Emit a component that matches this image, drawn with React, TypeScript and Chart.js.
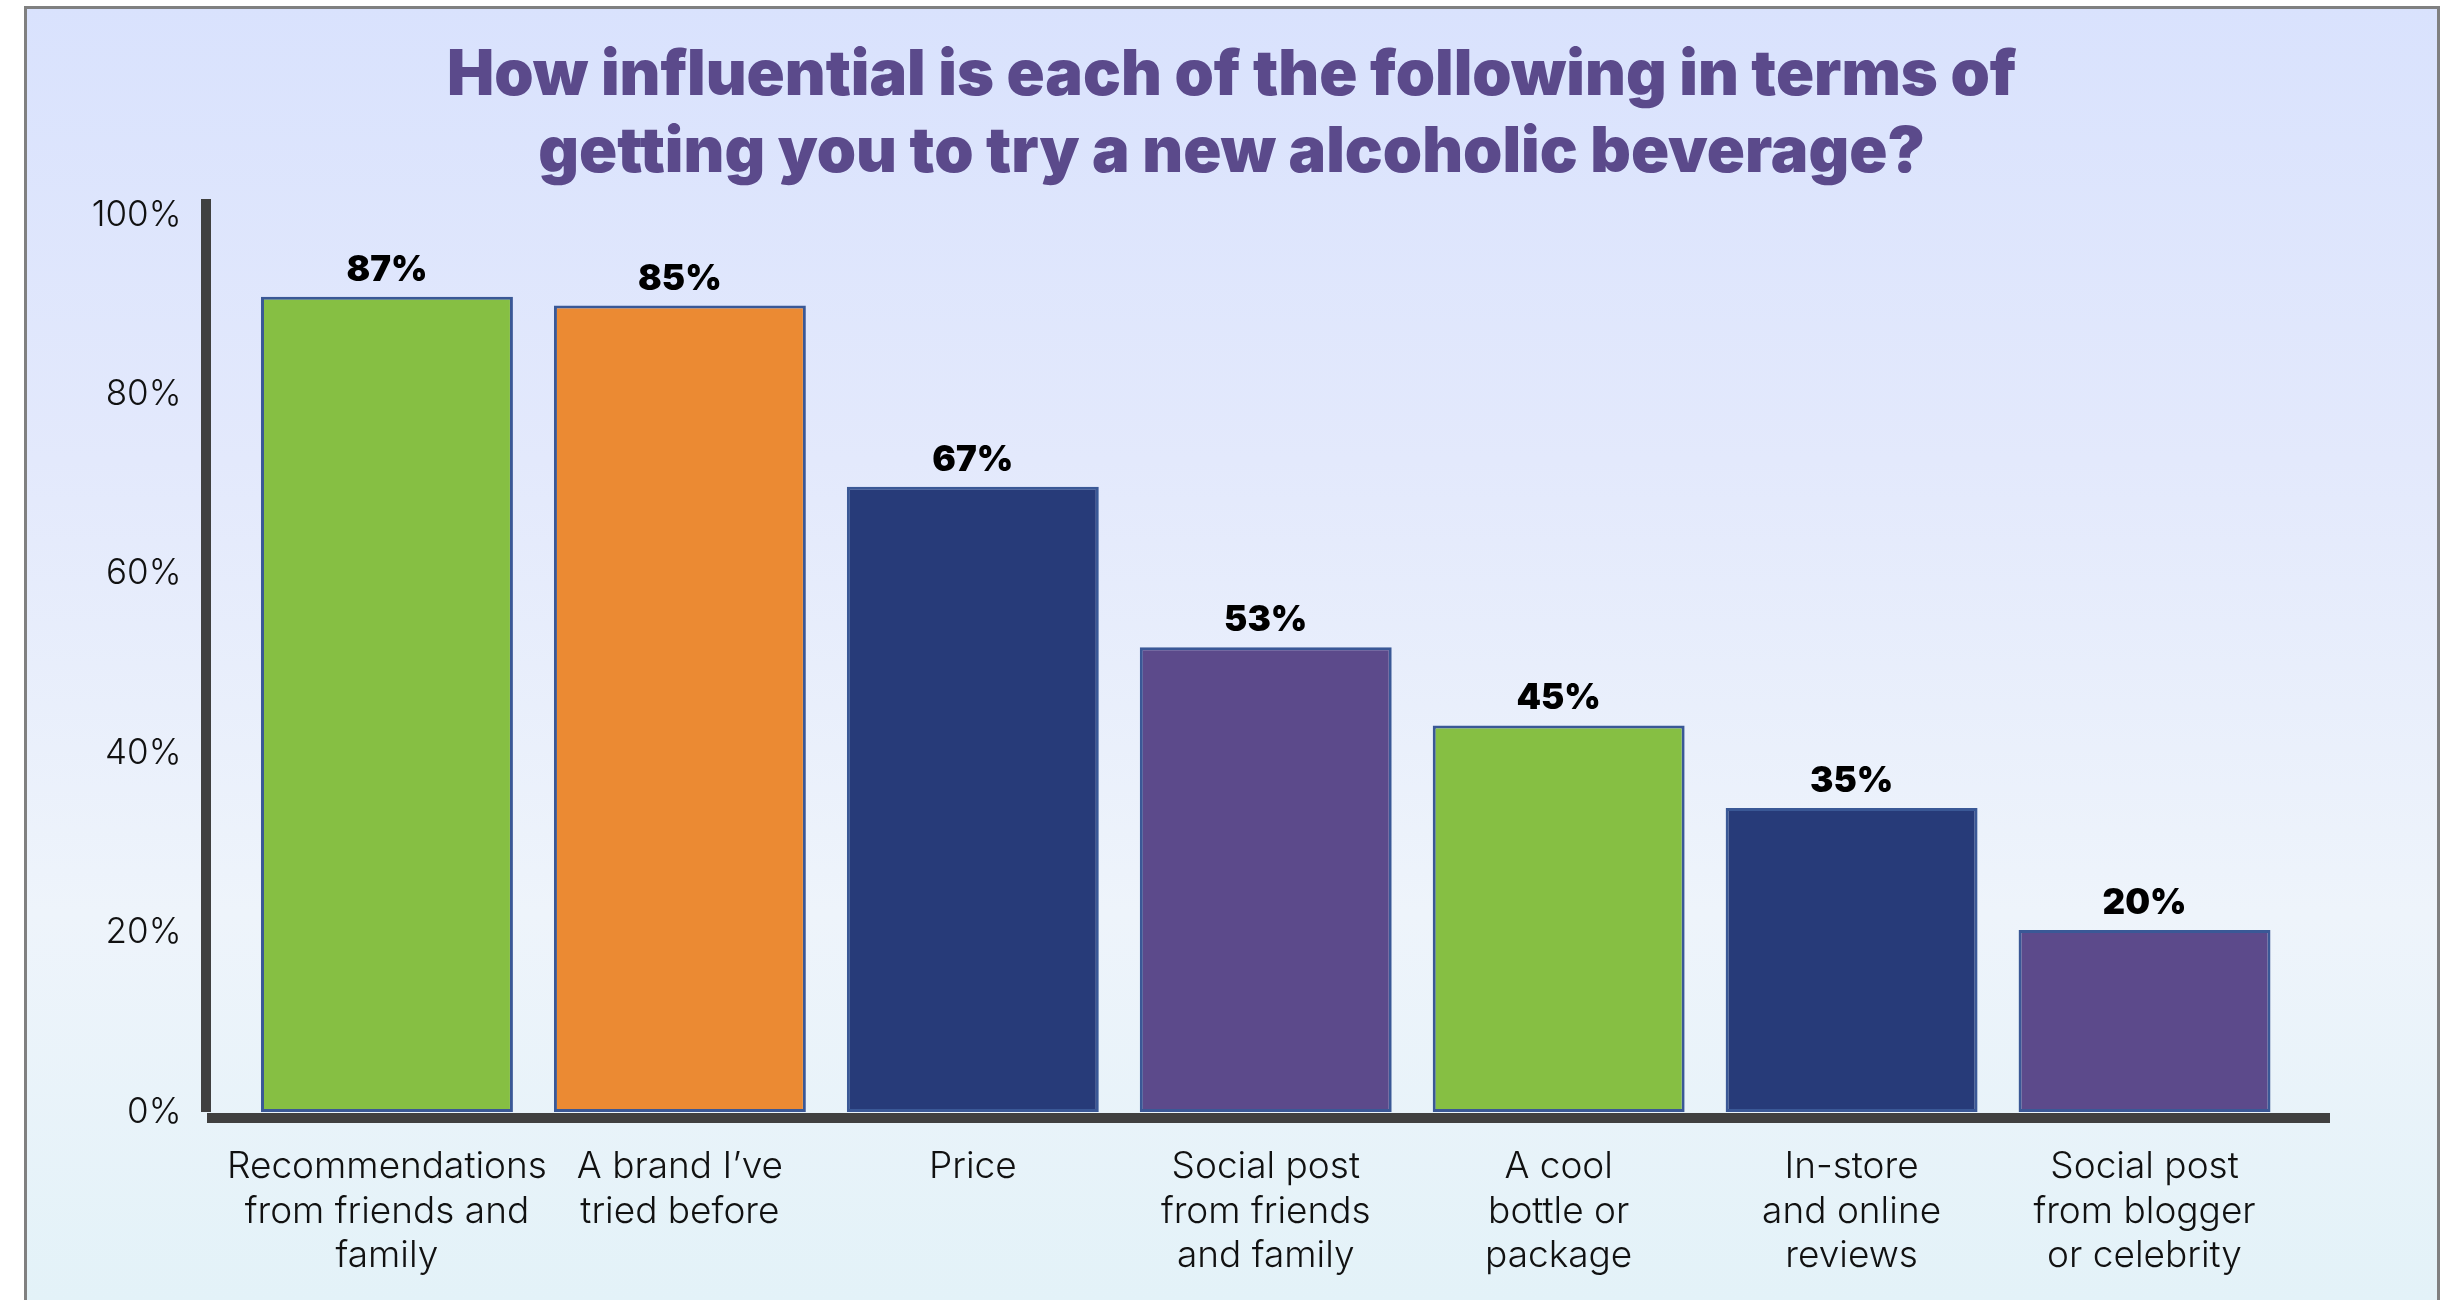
import React, { useEffect, useRef } from "react";
import { Chart, registerables } from "chart.js";

Chart.register(...registerables);

const titleLines = [
  "How influential is each of the following in terms of",
  "getting you to try a new alcoholic beverage?",
];

const categories = [
  ["Recommendations", "from friends and", "family"],
  ["A brand I\u2019ve", "tried before"],
  ["Price"],
  ["Social post", "from friends", "and family"],
  ["A cool", "bottle or", "package"],
  ["In-store", "and online", "reviews"],
  ["Social post", "from blogger", "or celebrity"],
];

// bar heights as drawn against the axis
const barValues = [90.9, 89.9, 69.7, 51.8, 43.1, 33.9, 20.3];
// printed labels above the bars
const valueLabels = ["87%", "85%", "67%", "53%", "45%", "35%", "20%"];

const barColors = ["#86bf43", "#eb8a33", "#273b79", "#5c4a8b", "#86bf43", "#273b79", "#5c4a8b"];

const yMin = 0;
const yMax = 100;
const yStep = 20;

const W = 2449;
const H = 1300;

const backgroundPlugin = {
  id: "bgFrame",
  beforeDraw(chart: any) {
    const ctx = chart.ctx;
    ctx.save();
    ctx.fillStyle = "#ffffff";
    ctx.fillRect(0, 0, chart.width, chart.height);
    const g = ctx.createLinearGradient(0, 7, 0, chart.height);
    g.addColorStop(0, "#d9e2fd");
    g.addColorStop(0.35, "#e3e9fc");
    g.addColorStop(0.7, "#eef4fb");
    g.addColorStop(1, "#e3f2f8");
    ctx.fillStyle = g;
    ctx.fillRect(26, 7, 2413, chart.height - 7);
    ctx.strokeStyle = "#808080";
    ctx.lineWidth = 3;
    ctx.beginPath();
    ctx.moveTo(25.5, chart.height + 2);
    ctx.lineTo(25.5, 7.5);
    ctx.lineTo(2438.5, 7.5);
    ctx.lineTo(2438.5, chart.height + 2);
    ctx.stroke();
    ctx.restore();
  },
};

const titlePlugin = {
  id: "customTitle",
  afterDraw(chart: any) {
    const ctx = chart.ctx;
    ctx.save();
    ctx.fillStyle = "#5b4a8b";
    ctx.font = "900 63px Inter";
    ctx.textAlign = "center";
    ctx.textBaseline = "alphabetic";
    const cx = (chart.chartArea.left + chart.chartArea.right) / 2 - 34;
    titleLines.forEach((line, i) => {
      ctx.fillText(line, cx, 95 + i * 77);
    });
    ctx.restore();
  },
};

const axisLinesPlugin = {
  id: "axisLines",
  afterDatasetsDraw(chart: any) {
    const { ctx, chartArea } = chart;
    ctx.save();
    ctx.fillStyle = "#404040";
    // vertical axis
    ctx.fillRect(chartArea.left - 39.5, chartArea.top - 16, 10, chartArea.bottom - chartArea.top + 16);
    // horizontal axis
    ctx.fillRect(chartArea.left - 33.5, chartArea.bottom + 1, chartArea.right + 39 - (chartArea.left - 33.5), 10);
    ctx.restore();
  },
};

const valueLabelPlugin = {
  id: "valueLabels",
  afterDatasetsDraw(chart: any) {
    const { ctx } = chart;
    const meta = chart.getDatasetMeta(0);
    ctx.save();
    ctx.fillStyle = "#000000";
    ctx.font = "900 35px Inter";
    ctx.textAlign = "center";
    ctx.textBaseline = "alphabetic";
    meta.data.forEach((bar: any, i: number) => {
      ctx.fillText(valueLabels[i], bar.x, bar.y - 16);
    });
    ctx.restore();
  },
};

export default function App() {
  const canvasRef = useRef<HTMLCanvasElement | null>(null);

  useEffect(() => {
    if (!canvasRef.current) return;
    const chart = new Chart(canvasRef.current, {
      type: "bar",
      data: {
        labels: categories,
        datasets: [
          {
            data: barValues,
            backgroundColor: barColors,
            borderColor: "#3a5896",
            borderWidth: 3,
            borderSkipped: false,
            categoryPercentage: 1,
            barPercentage: 0.86,
          },
        ],
      },
      options: {
        animation: false,
        responsive: false,
        devicePixelRatio: 1,
        layout: { padding: { left: 60, right: 158, top: 215, bottom: 0 } },
        plugins: {
          legend: { display: false },
          tooltip: { enabled: false },
          title: { display: false },
        },
        scales: {
          x: {
            grid: { display: false, drawTicks: false },
            border: { display: false },
            ticks: {
              color: "#111111",
              font: { family: "Inter", weight: 300, size: 37, lineHeight: 1.2 },
              padding: 33,
              maxRotation: 0,
              autoSkip: false,
            },
            afterFit(scale: any) {
              scale.height = 188;
            },
          },
          y: {
            min: yMin,
            max: yMax,
            grid: { display: false, drawTicks: false },
            border: { display: false },
            ticks: {
              stepSize: yStep,
              color: "#111111",
              font: { family: "Inter", weight: 300, size: 35 },
              padding: 59,
              callback: (v: any) => v + "%",
            },
            afterFit(scale: any) {
              scale.width = 180.5;
            },
          },
        },
      },
      plugins: [backgroundPlugin, axisLinesPlugin, valueLabelPlugin, titlePlugin],
    });
    return () => chart.destroy();
  }, []);

  return (
    <div style={{ position: "absolute", left: 0, top: 0, width: W, height: H }}>
      <canvas ref={canvasRef} width={W} height={H} style={{ display: "block", width: W, height: H }} />
    </div>
  );
}
